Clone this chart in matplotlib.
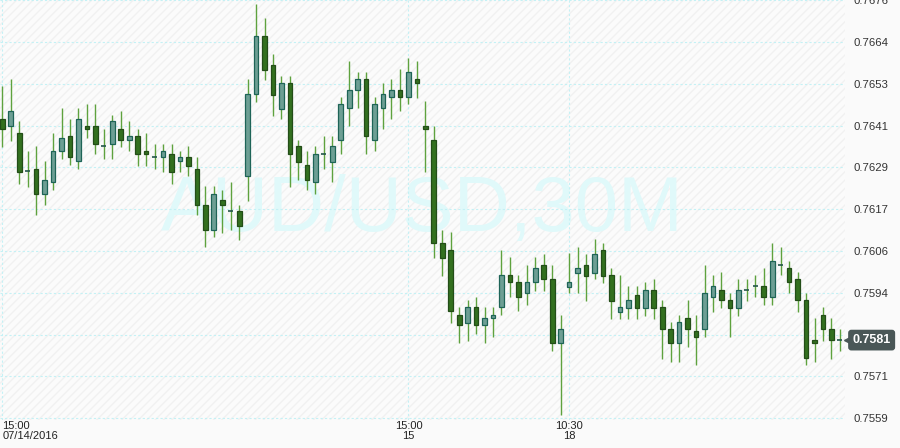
import matplotlib
matplotlib.use("Agg")
import matplotlib.pyplot as plt
import matplotlib.transforms as mtransforms
from matplotlib.patches import Rectangle
import numpy as np

# AUD/USD 30 minute candles, 07/14/2016 15:00 onwards
opens = [0.76428, 0.76406, 0.76389, 0.76280, 0.76288, 0.76218, 0.76249, 0.76338, 0.76378, 0.76308,
         0.76408, 0.76408, 0.76350, 0.76358, 0.76400, 0.76369, 0.76378, 0.76338, 0.76319, 0.76319,
         0.76330, 0.76308, 0.76319, 0.76288, 0.76187, 0.76117, 0.76199, 0.76168, 0.76168, 0.76266,
         0.76498, 0.76660, 0.76579, 0.76456, 0.76529, 0.76350, 0.76299, 0.76249, 0.76330, 0.76305,
         0.76369, 0.76459, 0.76509, 0.76540, 0.76369, 0.76459, 0.76489, 0.76509, 0.76489, 0.76540,
         0.76408, 0.76369, 0.76078, 0.76059, 0.75877, 0.75855, 0.75899, 0.75849, 0.75869, 0.75899,
         0.75989, 0.75969, 0.75938, 0.75969, 0.76017, 0.75978, 0.75799, 0.75955, 0.75994, 0.76017,
         0.75994, 0.76059, 0.75989, 0.75885, 0.75897, 0.75933, 0.75897, 0.75947, 0.75899, 0.75838,
         0.75799, 0.75869, 0.75832, 0.75838, 0.75927, 0.75947, 0.75919, 0.75897, 0.75947, 0.75958,
         0.75958, 0.75927, 0.76017, 0.76008, 0.75978, 0.75919, 0.75807, 0.75877, 0.75838, 0.75807]
highs = [0.76520, 0.76540, 0.76420, 0.76338, 0.76350, 0.76308, 0.76389, 0.76459, 0.76428, 0.76459,
         0.76470, 0.76470, 0.76400, 0.76439, 0.76448, 0.76420, 0.76400, 0.76389, 0.76358, 0.76358,
         0.76358, 0.76338, 0.76350, 0.76319, 0.76238, 0.76238, 0.76229, 0.76249, 0.76187, 0.76540,
         0.76750, 0.76710, 0.76610, 0.76548, 0.76548, 0.76369, 0.76338, 0.76350, 0.76378, 0.76378,
         0.76489, 0.76590, 0.76559, 0.76559, 0.76489, 0.76529, 0.76540, 0.76568, 0.76599, 0.76590,
         0.76478, 0.76408, 0.76117, 0.76109, 0.75899, 0.75919, 0.75927, 0.75899, 0.75899, 0.76059,
         0.76039, 0.75989, 0.76017, 0.76039, 0.76048, 0.76017, 0.75877, 0.76050, 0.76067, 0.76048,
         0.76090, 0.76078, 0.76008, 0.75989, 0.75958, 0.75958, 0.75969, 0.75978, 0.75919, 0.75857,
         0.75877, 0.75919, 0.75877, 0.76017, 0.75989, 0.75997, 0.75938, 0.75978, 0.75978, 0.75989,
         0.76008, 0.76078, 0.76067, 0.76028, 0.75997, 0.75938, 0.75869, 0.75899, 0.75869, 0.75838]
lows = [0.76347, 0.76366, 0.76246, 0.76235, 0.76157, 0.76185, 0.76229, 0.76316, 0.76299, 0.76288,
        0.76375, 0.76330, 0.76316, 0.76316, 0.76347, 0.76336, 0.76296, 0.76296, 0.76288, 0.76277,
        0.76246, 0.76277, 0.76266, 0.76157, 0.76067, 0.76095, 0.76106, 0.76115, 0.76087, 0.76196,
        0.76475, 0.76537, 0.76436, 0.76428, 0.76235, 0.76255, 0.76227, 0.76218, 0.76288, 0.76249,
        0.76330, 0.76406, 0.76459, 0.76330, 0.76338, 0.76400, 0.76428, 0.76448, 0.76470, 0.76487,
        0.76277, 0.76036, 0.75986, 0.75855, 0.75799, 0.75804, 0.75824, 0.75799, 0.75815, 0.75877,
        0.75927, 0.75888, 0.75905, 0.75944, 0.75944, 0.75776, 0.75597, 0.75938, 0.75938, 0.75916,
        0.75978, 0.75966, 0.75866, 0.75866, 0.75866, 0.75866, 0.75874, 0.75866, 0.75754, 0.75745,
        0.75745, 0.75787, 0.75737, 0.75815, 0.75885, 0.75897, 0.75815, 0.75874, 0.75916, 0.75927,
        0.75905, 0.75905, 0.75989, 0.75938, 0.75885, 0.75737, 0.75745, 0.75804, 0.75754, 0.75776]
closes = [0.76400, 0.76448, 0.76277, 0.76280, 0.76218, 0.76257, 0.76338, 0.76375, 0.76319, 0.76428,
          0.76400, 0.76358, 0.76350, 0.76420, 0.76369, 0.76378, 0.76330, 0.76330, 0.76319, 0.76338,
          0.76277, 0.76319, 0.76296, 0.76185, 0.76117, 0.76218, 0.76185, 0.76168, 0.76126, 0.76498,
          0.76660, 0.76565, 0.76495, 0.76529, 0.76330, 0.76305, 0.76255, 0.76330, 0.76330, 0.76350,
          0.76470, 0.76509, 0.76540, 0.76378, 0.76470, 0.76498, 0.76509, 0.76489, 0.76559, 0.76529,
          0.76400, 0.76078, 0.76036, 0.75888, 0.75849, 0.75899, 0.75849, 0.75869, 0.75877, 0.75989,
          0.75969, 0.75927, 0.75969, 0.76008, 0.75978, 0.75799, 0.75838, 0.75969, 0.76008, 0.75986,
          0.76048, 0.75986, 0.75916, 0.75899, 0.75919, 0.75897, 0.75947, 0.75897, 0.75838, 0.75799,
          0.75857, 0.75838, 0.75815, 0.75938, 0.75958, 0.75919, 0.75897, 0.75947, 0.75947, 0.75958,
          0.75927, 0.76028, 0.76017, 0.75969, 0.75919, 0.75757, 0.75799, 0.75838, 0.75807, 0.75807]

price_ticks = [0.75588, 0.757052, 0.758224, 0.759396, 0.760568, 0.76174,
               0.762912, 0.764084, 0.765256, 0.766428, 0.7676]
# the 0.7582 label sits under the last-price box, so it is left blank
price_labels = ["0.7559", "0.7571", "", "0.7594", "0.7606", "0.7617",
                "0.7629", "0.7641", "0.7653", "0.7664", "0.7676"]
time_ticks = [0, 48, 67]
time_labels = ["15:00\n07/14/2016", "15:00\n15", "10:30\n18"]
last_label = "0.7581"

up_fill, up_edge = "#6d9f94", "#1e6457"
dn_fill, dn_edge = "#33701f", "#234d18"
wick_col = "#5ea23e"
grid_col = "#c4f1f5"

fig = plt.figure(figsize=(9, 4.48), dpi=100, facecolor="#fafafa")
ax = fig.add_axes([0, 28 / 448, 845 / 900, 420 / 448])
ax.set_facecolor("#fbfbfb")
ax.add_patch(Rectangle((0, 0), 1, 1, transform=ax.transAxes, facecolor="none",
                       hatch="////", edgecolor="#f1f1f1", lw=0, zorder=0))

ax.text(0.5, 0.5, "AUD/USD,30M", transform=ax.transAxes, ha="center", va="center",
        fontsize=56, family="Liberation Sans", color="#e0f9fa", zorder=0.5)

o = np.array(opens)
h = np.array(highs)
l = np.array(lows)
c = np.array(closes)
x = np.arange(len(o))
up = c > o
dn = c < o
flat = c == o

ax.vlines(x, l, h, color=wick_col, lw=1.0, zorder=2)
ax.bar(x[up], (c - o)[up], bottom=o[up], width=0.55, color=up_fill,
       edgecolor=up_edge, linewidth=0.9, zorder=3)
ax.bar(x[dn], (o - c)[dn], bottom=c[dn], width=0.55, color=dn_fill,
       edgecolor=dn_edge, linewidth=0.9, zorder=3)
ax.hlines(o[flat], x[flat] - 0.3, x[flat] + 0.3, color="#24564a", lw=1.2, zorder=3)

ax.set_xlim(-0.27, 99.6)
ax.set_ylim(0.75583, 0.767605)

ax.yaxis.tick_right()
ax.set_yticks(price_ticks)
ax.set_yticklabels(price_labels)
ax.set_xticks(time_ticks)
ax.set_xticklabels(time_labels)
for lab in ax.get_xticklabels():
    lab.set_multialignment("center")
first = ax.get_xticklabels()[0]
first.set_horizontalalignment("left")
first.set_multialignment("left")
ax.tick_params(axis="y", length=0, pad=6, labelsize=8.2, labelcolor="#333333")
ax.tick_params(axis="x", length=0, pad=1, labelsize=8, labelcolor="#222222")
for lab in ax.get_xticklabels() + ax.get_yticklabels():
    lab.set_family("Liberation Sans")
    lab.set_linespacing(0.95)

ax.grid(True, color=grid_col, linestyle=(0, (2, 2)), lw=0.8, zorder=1)
ax.set_axisbelow(True)
for s in ax.spines.values():
    s.set_visible(False)

# last price marker
trans = mtransforms.blended_transform_factory(ax.transAxes, ax.transData)
box_col = "#4a5757"
ax.plot([1.003], [c[-1]], marker="<", ms=6, color=box_col, transform=trans, clip_on=False, zorder=5)
ax.text(1.0089, c[-1], last_label, transform=trans, ha="left", va="center",
        fontsize=9, fontweight="bold", color="white", family="Liberation Sans",
        bbox=dict(boxstyle="round,pad=0.35,rounding_size=0.25", fc=box_col, ec="none"),
        zorder=6, clip_on=False)

fig.savefig("out.png", dpi=100, facecolor=fig.get_facecolor())
